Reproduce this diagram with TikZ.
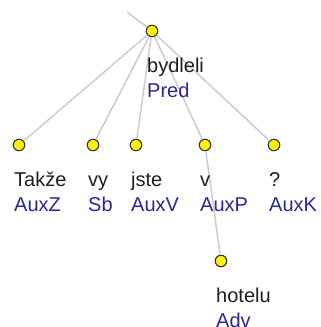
\documentclass[tikz,border=0pt]{standalone}
\usepackage{fontspec}
\setmainfont{Liberation Sans}
\definecolor{edgegray}{RGB}{204,204,204}
\definecolor{afunblue}{RGB}{40,40,150}
\definecolor{wordblack}{RGB}{30,30,30}
\tikzset{
  tok/.style={circle,draw=black!80,line width=1.1pt,fill=yellow,minimum size=11.5pt,inner sep=0pt},
  dep/.style={draw=edgegray,line width=1.5pt},
  word/.style={anchor=base west,inner sep=0pt,text=wordblack,font=\fontsize{20pt}{24pt}\selectfont},
  afun/.style={anchor=base west,inner sep=0pt,text=afunblue,font=\fontsize{20pt}{24pt}\selectfont}
}
\begin{document}
\begin{tikzpicture}[x=1pt,y=-1pt]
  \useasboundingbox (0,0) rectangle (321,327);
  %uzly
  \coordinate (up) at (127,12);
  \node[tok] (bydleli) at (152,31) {};
  \node[tok] (takze) at (19,145) {};
  \node[tok] (vy) at (93,145) {};
  \node[tok] (jste) at (136,145) {};
  \node[tok] (v) at (205,145) {};
  \node[tok] (otaz) at (274,145) {};
  \node[tok] (hotelu) at (221,261) {};
  %hrany
  \draw[dep] (up) -- (bydleli);
  \draw[dep] (bydleli) -- (takze);
  \draw[dep] (bydleli) -- (vy);
  \draw[dep] (bydleli) -- (jste);
  \draw[dep] (bydleli) -- (v);
  \draw[dep] (bydleli) -- (otaz);
  \draw[dep] (v) -- (hotelu);
  %popisky
  \node[word] (bydleliw) at (147,72) {bydleli};
  \node[afun] (bydlelia) at (147,97) {Pred};
  \node[word] (takzew) at (14,186) {Takže};
  \node[afun] (takzea) at (14,211) {AuxZ};
  \node[word] (vyw) at (88,186) {vy};
  \node[afun] (vya) at (88,211) {Sb};
  \node[word] (jstew) at (131,186) {jste};
  \node[afun] (jstea) at (131,211) {AuxV};
  \node[word] (vw) at (200,186) {v};
  \node[afun] (va) at (200,211) {AuxP};
  \node[word] (otazw) at (269,186) {?};
  \node[afun] (otaza) at (269,211) {AuxK};
  \node[word] (hoteluw) at (216,302) {hotelu};
  \node[afun] (hotelua) at (216,327) {Adv};
\end{tikzpicture}
\end{document}
